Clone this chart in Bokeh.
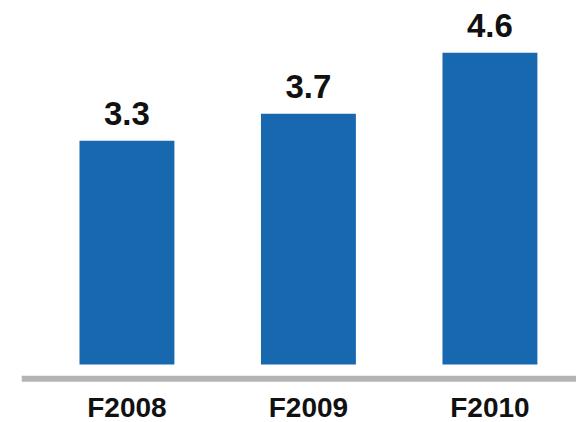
from bokeh.plotting import figure
from bokeh.models import ColumnDataSource, Range1d, Span
from bokeh.core.properties import value
from bokeh.embed import file_html
from bokeh.resources import INLINE

categories = ["F2008", "F2009", "F2010"]
values = [3.3, 3.7, 4.6]
value_labels = ["3.3", "3.7", "4.6"]

xs = list(range(len(categories)))
src = ColumnDataSource(dict(x=xs, top=values, lab=value_labels, cat=categories,
                            cy=[-0.634] * len(categories)))

p = figure(width=576, height=422, output_backend="svg", toolbar_location=None,
           x_range=Range1d(-0.581, 2.477), y_range=Range1d(-0.855, 5.369),
           x_axis_type=None, y_axis_type=None,
           min_border_left=21, min_border_right=0, min_border_top=0, min_border_bottom=0)
p.outline_line_color = None
p.xgrid.visible = False
p.ygrid.visible = False
p.background_fill_color = "white"
p.border_fill_color = "white"

p.vbar(x="x", top="top", bottom=0, width=0.523, source=src,
       fill_color="#1868B0", line_color=None)

p.add_layout(Span(location=-0.211, dimension="width", line_color="#B4B4B4", line_width=6))

p.text(x="x", y="top", text="lab", source=src, y_offset=-16,
       text_align="center", text_baseline="bottom",
       text_font=value("Liberation Sans"), text_font_style="bold",
       text_font_size="33px", text_color="#111111")

p.text(x="x", y="cy", text="cat", source=src,
       text_align="center", text_baseline="middle",
       text_font=value("Liberation Sans"), text_font_style="bold",
       text_font_size="28px", text_color="#111111")

open("out.html", "w").write(file_html(p, INLINE))
